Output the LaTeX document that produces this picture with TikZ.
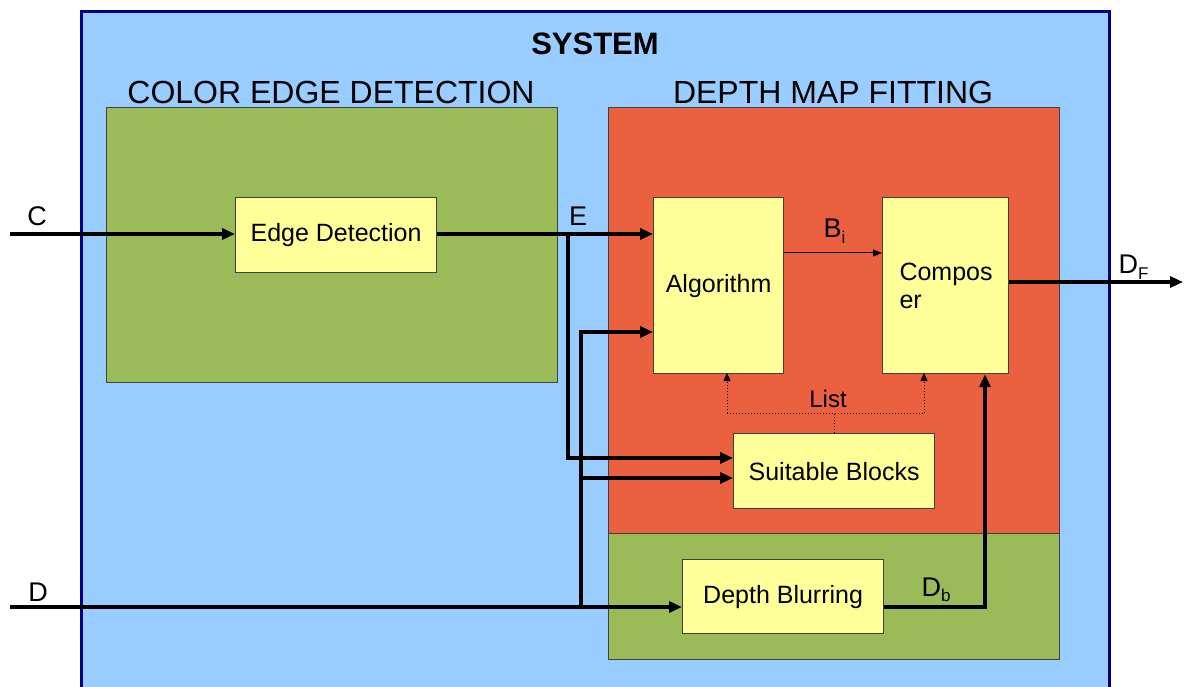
\documentclass[tikz,border=0pt]{standalone}
\usepackage{fontspec}
\setmainfont{Liberation Sans}
\usetikzlibrary{arrows.meta}
\definecolor{sysblue}{HTML}{99CCFF}
\definecolor{grnbox}{HTML}{9BBB59}
\definecolor{redbox}{HTML}{EB613F}
\definecolor{yelbox}{HTML}{FFFF99}
\definecolor{navyline}{HTML}{000080}
\definecolor{edgegray}{HTML}{404040}
\newcommand{\lowsub}[2]{\raisebox{-#1}{\fontsize{17}{18}\selectfont #2}}
\begin{document}
\begin{tikzpicture}[x=1pt,y=-1pt,
  region/.style={draw=edgegray, line width=1.2pt, anchor=north west, inner sep=0pt},
  block/.style={draw=edgegray, line width=1.2pt, fill=yelbox, anchor=north west, inner sep=0pt},
  blocktext/.style={font=\fontsize{25}{28}\selectfont},
  heading/.style={font=\fontsize{32}{34}\selectfont},
  sig/.style={font=\fontsize{27}{29}\selectfont},
  thickarrow/.style={line width=3.5pt, -{Triangle[length=13pt,width=11pt]}},
  thinarrow/.style={line width=1pt, -{Triangle[length=9pt,width=7pt]}},
  listline/.style={line width=1pt, dotted},
  listarrow/.style={line width=1pt, dotted, -{Triangle[length=8pt,width=7pt]}}
]
\useasboundingbox (0,0) rectangle (1184,687);
% regions
\node[draw=navyline, line width=3pt, fill=sysblue, anchor=north west, inner sep=0pt,
      minimum width=1028pt, minimum height=700pt] (sys) at (80,10) {};
\node[font=\bfseries\fontsize{31}{33}\selectfont] (systitle) at (595,44) {SYSTEM};
\node[region, fill=grnbox, minimum width=451pt, minimum height=275pt] (ced) at (106,107) {};
\node[heading] (cedtitle) at (331,92) {COLOR EDGE DETECTION};
\node[region, fill=redbox, minimum width=451pt, minimum height=426pt] (dmf) at (608,107) {};
\node[region, fill=grnbox, minimum width=451pt, minimum height=126pt] (dbr) at (608,533) {};
\node[heading] (dmftitle) at (833,92) {DEPTH MAP FITTING};
% blocks
\node[block, minimum width=201pt, minimum height=75pt] (ed) at (235,197) {};
\node[blocktext] at (ed.center) {Edge Detection};
\node[block, minimum width=130pt, minimum height=176pt] (alg) at (653,197) {};
\node[blocktext] at (alg.center) {Algorithm};
\node[block, minimum width=126pt, minimum height=176pt] (comp) at (882,197) {};
\node[blocktext, align=left, anchor=west] at (896,286) {Compos\\er};
\node[block, minimum width=201pt, minimum height=75pt] (sb) at (733,433) {};
\node[blocktext] at (sb.center) {Suitable Blocks};
\node[block, minimum width=201pt, minimum height=74pt] (db) at (682,559) {};
\node[blocktext] at (db.center) {Depth Blurring};
% free ends and branch points
\coordinate (cin) at (10,234);
\coordinate (din) at (10,607);
\coordinate (dfout) at (1183,282);
\coordinate (ebr) at (568,234);
\coordinate (dbrx) at (581,607);
\coordinate (dbcorner) at (985,607);
% labels
\node[sig] (clab) at (37,216) {C};
\node[sig] (elab) at (578,216) {E};
\node[sig] (dlab) at (38,592) {D};
\node[sig, anchor=base west] (bilab) at (820,238) {B\lowsub{6pt}{i}};
\node[sig, anchor=base west] (dflab) at (1115,273) {D\lowsub{6pt}{F}};
\node[sig, anchor=base west] (dblab) at (918,596) {D\lowsub{5pt}{b}};
\node[font=\fontsize{24}{26}\selectfont] (listlab) at (828,399) {List};
% connectors
\draw[thickarrow] (cin) -- (ed.west |- cin);
\draw[thickarrow] (ed.east |- ebr) -- (alg.west |- ebr);
\draw[thickarrow] (ebr) -- (ebr |- 0,458) -- (sb.west |- 0,458);
\draw[thickarrow] (din) -- (db.west |- din);
\draw[thickarrow] (dbrx) -- (dbrx |- 0,332) -- (alg.west |- 0,332);
\draw[thickarrow] (dbrx |- 0,478) -- (sb.west |- 0,478);
\draw[thickarrow] (db.east |- dbcorner) -- (dbcorner) -- (dbcorner |- comp.south);
\draw[thickarrow] (comp.east |- dfout) -- (dfout);
\draw[thinarrow] (alg.east |- 0,253) -- (comp.west |- 0,253);
% list
\draw[listline] (sb.north) -- (sb.north |- 0,413);
\draw[listarrow] (727,413) -- (727,373);
\draw[listarrow] (924,413) -- (924,373);
\draw[listline] (727,413) -- (924,413);
\end{tikzpicture}
\end{document}
